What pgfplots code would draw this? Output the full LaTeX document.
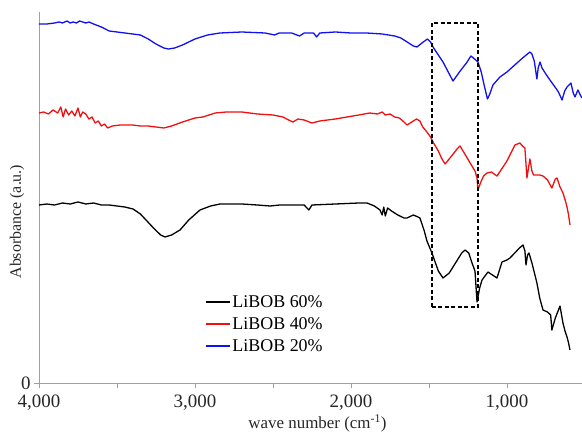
\documentclass[border=0pt]{standalone}
\usepackage{fontspec}
\setmainfont{Liberation Serif}
\usepackage{pgfplots}
\pgfplotsset{compat=1.18}
\definecolor{axgray}{HTML}{A0A0A0}
\definecolor{cblue}{HTML}{1010F0}
\definecolor{cred}{HTML}{F01010}
\pgfplotsset{shortline/.style={legend image code/.code={\draw[#1,line width=1.4pt] (0bp,0bp) -- (24bp,0bp);}}}
\begin{document}
\begin{tikzpicture}
\begin{axis}[scale only axis,width=543bp,height=371bp,
 axis lines=left,axis line style={axgray,line width=0.9pt,-},
 x dir=reverse,xmin=519,xmax=4000,ymin=0,ymax=371,
 xtick={4000,3000,2000,1000},xticklabels={{4,000},{3,000},{2,000},{1,000}},
 minor xtick={3500,2500,1500},ytick={0},yticklabels={0},
 tick align=outside,major tick length=5bp,minor tick length=5bp,
 tick style={axgray,line width=0.8pt},
 tick label style={font=\fontsize{19}{21}\selectfont,text=black!85},
 xlabel={wave number (cm\textsuperscript{-1})},ylabel={Absorbance (a.u.)},
 label style={font=\fontsize{16}{19}\selectfont,text=black!85},
 xlabel style={font=\fontsize{17}{19}\selectfont,yshift=2bp,xshift=7bp},ylabel style={at={(ticklabel cs:0.435)},yshift=-10bp},
 xticklabel style={yshift=-3bp},
 legend style={at={(0.300,0.254)},anchor=north west,draw=none,fill=none,
  font=\fontsize{18}{20}\selectfont,row sep=0pt,nodes={inner ysep=4.3pt}},
 legend cell align=left,
 every axis plot/.append style={line width=1.3pt,line join=round}]
\addplot[black,shortline] coordinates {(4000,178) (3950,179) (3900,178) (3850,180) (3800,179) (3750,181) (3700,179) (3650,180) (3600,178) (3550,178) (3500,177) (3450,176) (3397,174) (3350,169) (3308,162) (3260,154) (3220,148) (3192,146) (3150,148) (3096,153) (3040,163) (2968,173) (2900,177) (2840,179) (2700,179) (2600,178) (2519,177) (2455,178) (2300,178) (2270,173) (2250,178) (2100,179) (1950,180) (1897,180) (1850,177) (1814,173) (1800,168) (1790,176) (1780,167) (1765,175) (1740,172) (1700,168) (1660,165) (1641,165) (1600,168) (1570,166) (1558,165) (1530,152) (1513,142) (1481,130) (1440,112) (1410,105) (1370,110) (1330,120) (1290,130) (1269,133) (1245,130) (1224,120) (1205,112) (1192,81) (1175,95) (1160,103) (1122,111) (1064,105) (1032,121) (1000,123) (981,125) (950,130) (920,135) (897,138) (885,132) (878,118) (868,128) (859,130) (840,120) (808,100) (790,85) (769,73) (740,71) (720,68) (712,53) (690,65) (660,77) (641,60) (628,52) (615,46) (605,40) (596,33)};
\addlegendentry{LiBOB 60\%}
\addplot[cred,shortline] coordinates {(4000,270) (3970,271) (3940,269) (3910,273) (3880,270) (3860,276) (3845,266) (3830,274) (3810,268) (3790,272) (3770,267) (3750,275) (3735,266) (3720,271) (3700,269) (3680,264) (3660,266) (3640,260) (3620,262) (3600,257) (3580,259) (3560,255) (3530,257) (3480,258) (3400,258) (3350,257) (3300,257) (3250,256) (3200,255) (3150,257) (3080,261) (3000,265) (2950,266) (2870,270) (2800,271) (2700,271) (2600,269) (2500,268) (2436,266) (2400,263) (2372,261) (2340,264) (2300,263) (2250,260) (2200,262) (2100,264) (2026,266) (1950,268) (1880,270) (1830,269) (1800,271) (1780,268) (1750,269) (1720,266) (1690,265) (1660,261) (1641,258) (1610,261) (1580,264) (1558,262) (1540,256) (1513,251) (1490,246) (1474,241) (1440,232) (1420,225) (1397,219) (1360,226) (1320,234) (1301,237) (1270,229) (1240,221) (1205,212) (1192,205) (1186,193) (1170,200) (1150,207) (1128,210) (1100,211) (1064,207) (1000,222) (949,238) (917,240) (900,237) (885,235) (872,205) (862,215) (853,224) (840,212) (830,208) (790,208) (769,207) (740,203) (712,195) (690,204) (679,205) (660,196) (641,190) (625,182) (615,176) (605,168) (596,158)};
\addlegendentry{LiBOB 40\%}
\addplot[cblue,shortline] coordinates {(4000,359) (3950,359) (3900,360) (3870,361) (3850,360) (3820,362) (3800,360) (3780,361) (3760,360) (3740,362) (3720,361) (3700,360) (3680,361) (3650,359) (3600,356) (3550,352) (3500,351) (3450,350) (3400,349) (3350,348) (3300,344) (3250,339) (3200,335) (3170,334) (3130,335) (3080,338) (3000,344) (2920,348) (2840,350) (2700,351) (2550,350) (2490,348) (2460,350) (2380,350) (2330,347) (2300,350) (2240,350) (2220,346) (2200,350) (2100,351) (2000,350) (1900,350) (1800,349) (1720,347) (1680,345) (1640,341) (1600,337) (1577,336) (1545,340) (1510,344) (1490,341) (1474,336) (1440,328) (1410,321) (1380,312) (1346,302) (1300,312) (1260,320) (1231,327) (1200,323) (1186,321) (1165,311) (1145,297) (1125,284) (1110,289) (1090,298) (1045,306) (1000,311) (950,318) (900,325) (853,331) (840,329) (825,322) (808,304) (800,315) (788,321) (775,315) (747,308) (720,302) (692,296) (670,291) (647,283) (630,292) (615,296) (590,300) (575,290) (564,286) (545,293) (530,288) (519,285)};
\addlegendentry{LiBOB 20\%}
\addplot[black,line width=1.7pt,dash pattern=on 4bp off 2.5bp,line join=miter,forget plot] coordinates {(1480,76) (1480,360) (1185,360) (1185,76) (1480,76)};
\end{axis}
\pgfresetboundingbox
\path (-39bp,-49bp) rectangle (543bp,383bp);
\end{tikzpicture}
\end{document}
